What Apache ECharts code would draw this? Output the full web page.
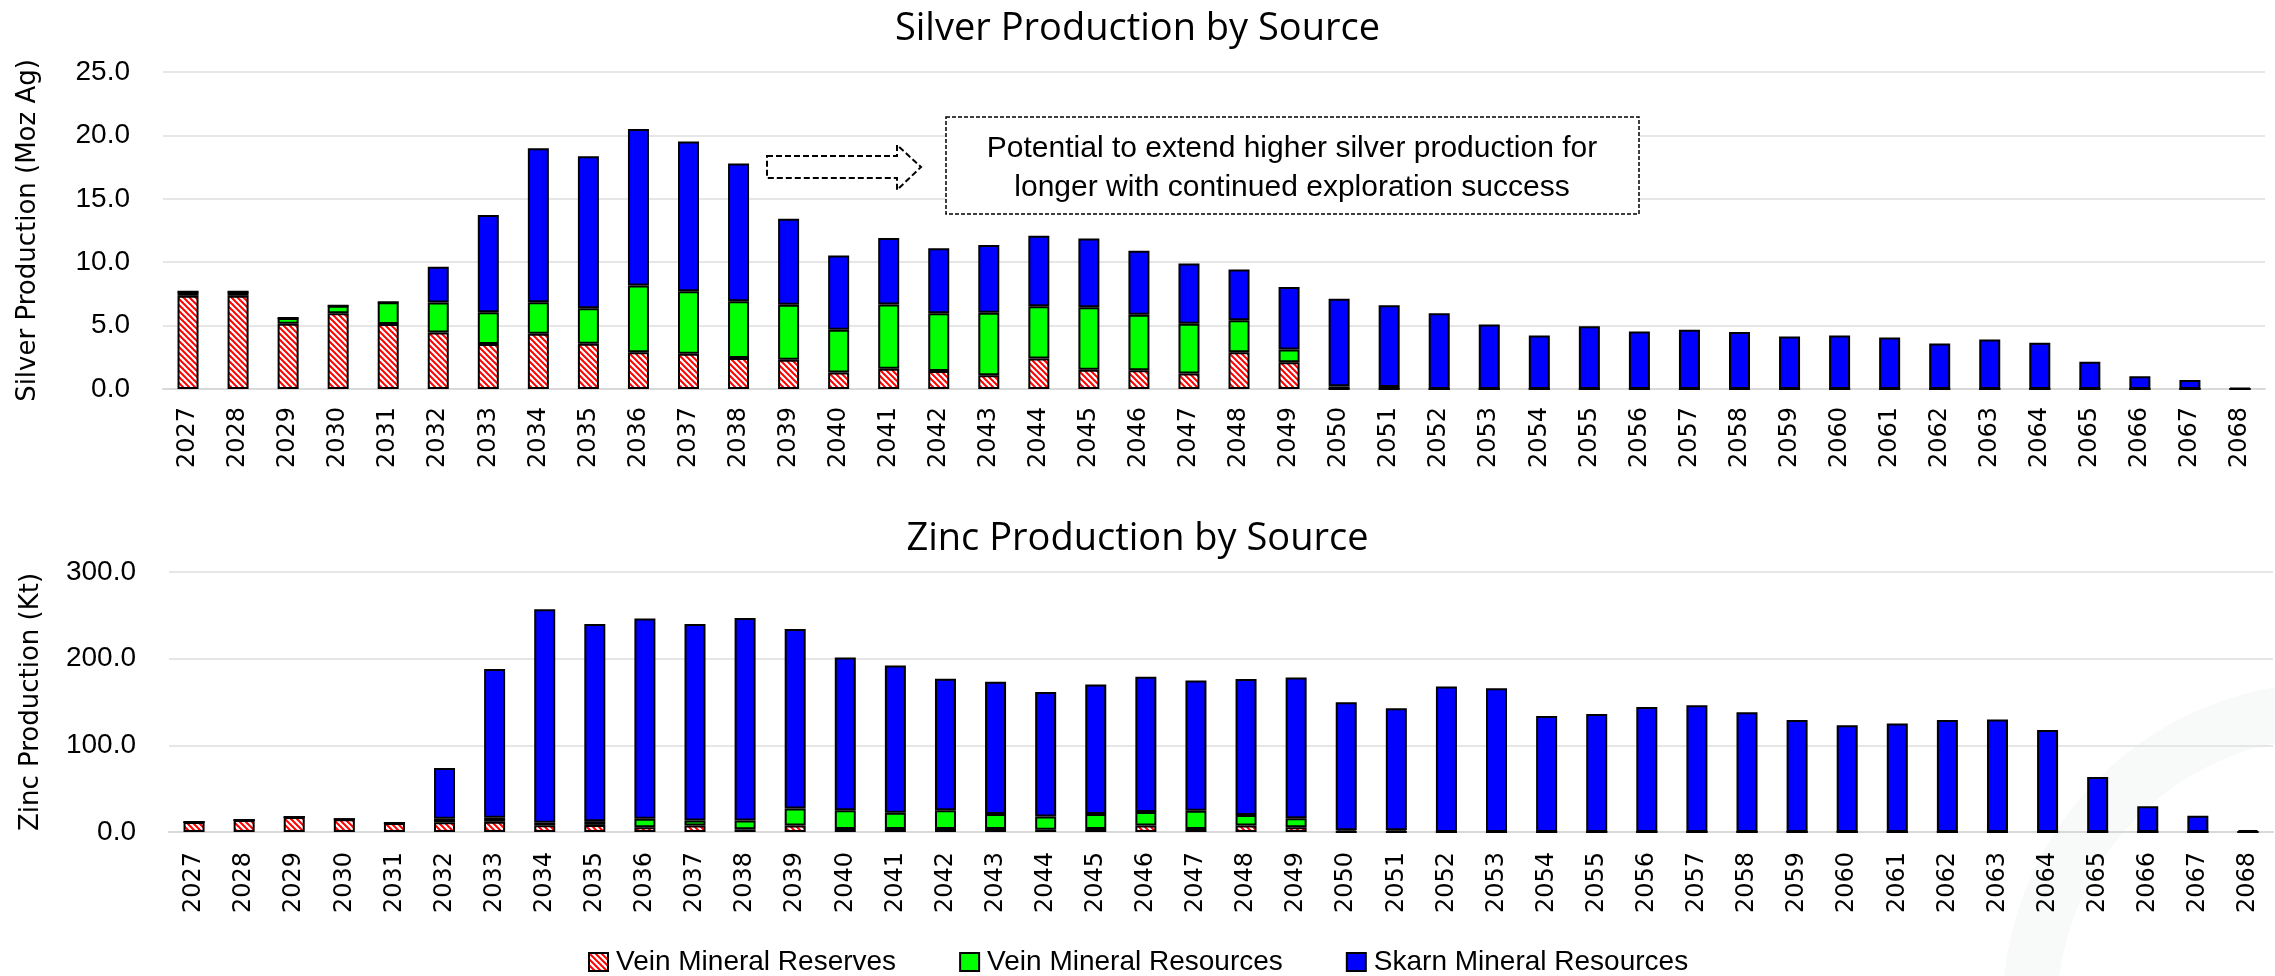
<!DOCTYPE html>
<html style="height: 100%">
<head>
    <meta charset="UTF-8" />
    <title>Silver and Zinc Production by Source</title>
    <style>
        html, body { margin: 0; padding: 0; background: #fff; }
    </style>
</head>
<body>
    <div id="main" style="width:2275px;height:976px;"></div>

    <script src="https://cdn.jsdelivr.net/npm/echarts@6/dist/echarts.min.js"></script>
    <script>
        /* categories */
        var years = ['2027','2028','2029','2030','2031','2032','2033','2034','2035','2036','2037','2038','2039','2040',
                     '2041','2042','2043','2044','2045','2046','2047','2048','2049','2050','2051','2052','2053','2054',
                     '2055','2056','2057','2058','2059','2060','2061','2062','2063','2064','2065','2066','2067','2068'];

        /* silver, Moz Ag */
        var silverVeinReserves = [7.35, 7.35, 5.14, 5.98, 5.12, 4.46, 3.54, 4.35, 3.57, 2.89, 2.78, 2.44, 2.31, 1.31,
                                  1.60, 1.42, 1.08, 2.41, 1.52, 1.47, 1.23, 2.89, 2.10, 0, 0, 0, 0, 0,
                                  0, 0, 0, 0, 0, 0, 0, 0, 0, 0, 0, 0, 0, 0];
        var silverVeinResources = [0.31, 0.31, 0.45, 0.58, 1.73, 2.36, 2.52, 2.50, 2.80, 5.27, 4.93, 4.49, 4.33, 3.36,
                                   5.06, 4.56, 4.93, 4.12, 4.93, 4.38, 3.91, 2.54, 1.02, 0.21, 0.16, 0, 0, 0,
                                   0, 0, 0, 0, 0, 0, 0, 0, 0, 0, 0, 0, 0, 0];
        var silverSkarnResources = [0, 0, 0, 0, 0, 2.83, 7.66, 12.14, 11.99, 12.35, 11.81, 10.86, 6.79, 5.85,
                                    5.25, 5.12, 5.35, 5.56, 5.41, 5.06, 4.75, 3.99, 4.93, 6.90, 6.45, 5.98, 5.09, 4.21,
                                    4.95, 4.54, 4.67, 4.49, 4.14, 4.22, 4.07, 3.59, 3.91, 3.65, 2.15, 1.00, 0.71, 0.08];

        /* zinc, Kt */
        var zincVeinReserves = [11.6, 13.9, 17.4, 14.7, 10.4, 11.3, 11.7, 7.8, 8.2, 5.5, 7.4, 3.1, 7.4, 3.5,
                                3.5, 3.5, 3.5, 2.7, 3.5, 7.4, 3.5, 7.4, 5.5, 0, 0, 0, 0, 0,
                                0, 0, 0, 0, 0, 0, 0, 0, 0, 0, 0, 0, 0, 0];
        var zincVeinResources = [0, 0, 0, 0, 0, 4.0, 4.7, 2.8, 4.3, 9.8, 5.9, 10.2, 19.6, 21.5,
                                 18.8, 21.5, 17.2, 15.3, 17.2, 15.7, 21.1, 12.2, 10.5, 2.0, 2.0, 0, 0, 0,
                                 0, 0, 0, 0, 0, 0, 0, 0, 0, 0, 0, 0, 0, 0];
        var zincSkarnResources = [0, 0, 0, 0, 0, 58.6, 171.7, 246.4, 227.6, 231.1, 226.8, 233.5, 207.3, 176.4,
                                  169.7, 151.8, 152.6, 143.5, 149.4, 156.0, 150.2, 156.8, 162.3, 147.8, 140.8, 167.8, 165.8, 133.8,
                                  136.1, 144.3, 146.3, 138.1, 129.1, 123.2, 125.2, 129.1, 129.8, 117.7, 63.4, 29.7, 18.8, 2.3];

        var seriesNames = ['Vein Mineral Reserves', 'Vein Mineral Resources', 'Skarn Mineral Resources'];

        /* red hatch for the reserves */
        var hatch = document.createElement('canvas');
        hatch.width = 6;
        hatch.height = 6;
        var hctx = hatch.getContext('2d');
        hctx.fillStyle = '#fff';
        hctx.fillRect(0, 0, 6, 6);
        hctx.strokeStyle = '#ff0000';
        hctx.lineWidth = 2;
        hctx.beginPath();
        hctx.moveTo(-1, -1); hctx.lineTo(7, 7);
        hctx.moveTo(-1, 5); hctx.lineTo(1, 7);
        hctx.moveTo(5, -1); hctx.lineTo(7, 1);
        hctx.stroke();

        var fills = [{image: hatch, repeat: 'repeat'}, '#00ff00', '#0000ff'];

        function barSeries(i, data, axisIndex, stack){
            return {
                name: seriesNames[i],
                type: 'bar',
                stack: stack,
                xAxisIndex: axisIndex,
                yAxisIndex: axisIndex,
                barWidth: 21,
                data: data,
                itemStyle: {color: fills[i], borderColor: '#000', borderWidth: 2},
                emphasis: {disabled: true}
            };
        }

        var gridLine = {lineStyle: {color: '#e6e6e6', width: 2}};
        var xLabel = {rotate: 90, fontFamily: 'DejaVu Sans', fontSize: 24, color: '#000'};
        var yLabel = {fontFamily: 'Liberation Sans', fontSize: 28, color: '#000',
                      formatter: function(v){ return v.toFixed(1); }};
        var yName = {fontFamily: 'DejaVu Sans', fontSize: 26, color: '#000'};
        var titleText = {fontFamily: 'Open Sans', fontWeight: 'normal', fontSize: 38, color: '#000'};

        var app = echarts.init(document.getElementById('main'));
        var option = {
            animation: false,
            title: [
                {text: 'Silver Production by Source', left: 'center', top: 5, textStyle: titleText},
                {text: 'Zinc Production by Source', left: 'center', top: 515, textStyle: titleText}
            ],
            legend: {
                data: seriesNames,
                left: 583,
                top: 943,
                itemWidth: 19,
                itemHeight: 18,
                itemGap: 63,
                icon: 'rect',
                textStyle: {fontFamily: 'Liberation Sans', fontSize: 28, color: '#000', padding: [0, 0, 0, 3]}
            },
            grid: [
                {left: 163, right: 10, top: 72, height: 317},
                {left: 169, right: 2, top: 572, height: 260}
            ],
            xAxis: [
                {type: 'category', gridIndex: 0, data: years, axisTick: {show: false},
                 axisLine: {lineStyle: {color: '#d9d9d9', width: 2}},
                 axisLabel: Object.assign({margin: 18, interval: 0}, xLabel)},
                {type: 'category', gridIndex: 1, data: years, axisTick: {show: false},
                 axisLine: {lineStyle: {color: '#d9d9d9', width: 2}},
                 axisLabel: Object.assign({margin: 20, interval: 0}, xLabel)}
            ],
            yAxis: [
                {type: 'value', gridIndex: 0, min: 0, max: 25, interval: 5,
                 name: 'Silver Production (Moz Ag)', nameLocation: 'middle', nameGap: 122, nameTextStyle: yName,
                 splitLine: gridLine, axisLabel: Object.assign({margin: 33}, yLabel)},
                {type: 'value', gridIndex: 1, min: 0, max: 300, interval: 100,
                 name: 'Zinc Production (Kt)', nameLocation: 'middle', nameGap: 125, nameTextStyle: yName,
                 splitLine: gridLine, axisLabel: Object.assign({margin: 33}, yLabel)}
            ],
            series: [
                barSeries(0, silverVeinReserves, 0, 'silver'),
                barSeries(1, silverVeinResources, 0, 'silver'),
                barSeries(2, silverSkarnResources, 0, 'silver'),
                barSeries(0, zincVeinReserves, 1, 'zinc'),
                barSeries(1, zincVeinResources, 1, 'zinc'),
                barSeries(2, zincSkarnResources, 1, 'zinc')
            ],
            graphic: [
                /* faint watermark swoosh */
                {type: 'arc', silent: true, z: -10,
                 shape: {cx: 2330, cy: 1010, r: 300, startAngle: Math.PI * 1.0, endAngle: Math.PI * 1.5},
                 style: {stroke: '#f8f9f9', lineWidth: 55, fill: null}},
                /* dashed arrow */
                {type: 'polygon', z: 10,
                 shape: {points: [[767, 156], [897, 156], [897, 145], [921, 167], [897, 190], [897, 178], [767, 178]]},
                 style: {fill: '#fff', stroke: '#000', lineWidth: 2, lineDash: [6, 3]}},
                /* dashed text box */
                {type: 'rect', z: 10,
                 shape: {x: 946, y: 117, width: 693, height: 97},
                 style: {fill: '#fff', stroke: '#000', lineWidth: 1.5, lineDash: [4, 2]}},
                {type: 'text', z: 11, x: 1292, y: 168,
                 style: {text: 'Potential to extend higher silver production for\nlonger with continued exploration success',
                         align: 'center', verticalAlign: 'middle', lineHeight: 39,
                         font: '30px "Liberation Sans"', fill: '#000'}}
            ]
        };
        app.setOption(option);
    </script>
</body>
</html>
